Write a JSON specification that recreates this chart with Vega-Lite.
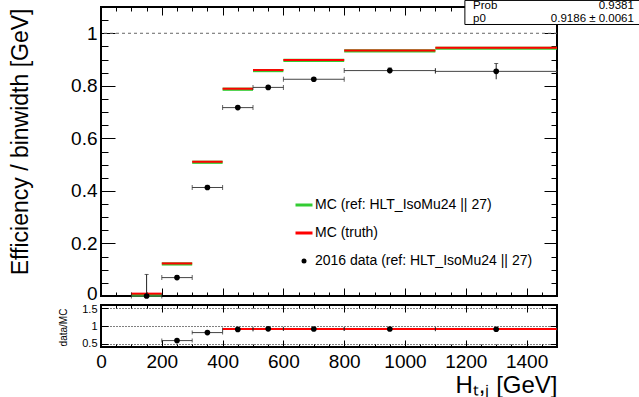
{
  "$schema": "https://vega.github.io/schema/vega-lite/v6.json",
  "padding": {"left": 8, "top": -2, "right": 0, "bottom": 0},
  "spacing": 9,
  "bounds": "flush",
  "config": {
    "font": "Liberation Sans",
    "view": {"stroke": "black", "strokeWidth": 2},
    "axis": {"domain": false, "grid": false, "labelFlush": false, "labelColor": "black", "tickColor": "black", "tickWidth": 1, "labelFont": "Liberation Sans", "titleFont": "Liberation Sans", "titleFontWeight": "normal", "titleColor": "black"}
  },
  "datasets": {
    "mcref": [
      {"series": "MC (ref: HLT_IsoMu24 || 27)", "lo": 100, "hi": 200, "eff": 0.003},
      {"series": "MC (ref: HLT_IsoMu24 || 27)", "lo": 200, "hi": 300, "eff": 0.122},
      {"series": "MC (ref: HLT_IsoMu24 || 27)", "lo": 300, "hi": 400, "eff": 0.509},
      {"series": "MC (ref: HLT_IsoMu24 || 27)", "lo": 400, "hi": 500, "eff": 0.787},
      {"series": "MC (ref: HLT_IsoMu24 || 27)", "lo": 500, "hi": 600, "eff": 0.858},
      {"series": "MC (ref: HLT_IsoMu24 || 27)", "lo": 600, "hi": 800, "eff": 0.897},
      {"series": "MC (ref: HLT_IsoMu24 || 27)", "lo": 800, "hi": 1100, "eff": 0.933},
      {"series": "MC (ref: HLT_IsoMu24 || 27)", "lo": 1100, "hi": 1500, "eff": 0.943}
    ],
    "mctruth": [
      {"series": "MC (truth)", "lo": 100, "hi": 200, "eff": 0.009},
      {"series": "MC (truth)", "lo": 200, "hi": 300, "eff": 0.124},
      {"series": "MC (truth)", "lo": 300, "hi": 400, "eff": 0.511},
      {"series": "MC (truth)", "lo": 400, "hi": 500, "eff": 0.789},
      {"series": "MC (truth)", "lo": 500, "hi": 600, "eff": 0.86},
      {"series": "MC (truth)", "lo": 600, "hi": 800, "eff": 0.898},
      {"series": "MC (truth)", "lo": 800, "hi": 1100, "eff": 0.934},
      {"series": "MC (truth)", "lo": 1100, "hi": 1500, "eff": 0.945}
    ],
    "eff": [
      {"series": "2016 data (ref: HLT_IsoMu24 || 27)", "x": 150, "lo": 100, "hi": 200, "eff": 0.0, "elo": 0.0, "ehi": 0.082},
      {"series": "2016 data (ref: HLT_IsoMu24 || 27)", "x": 250, "lo": 200, "hi": 300, "eff": 0.07, "elo": 0.062, "ehi": 0.078},
      {"series": "2016 data (ref: HLT_IsoMu24 || 27)", "x": 350, "lo": 300, "hi": 400, "eff": 0.413, "elo": 0.405, "ehi": 0.421},
      {"series": "2016 data (ref: HLT_IsoMu24 || 27)", "x": 450, "lo": 400, "hi": 500, "eff": 0.717, "elo": 0.711, "ehi": 0.723},
      {"series": "2016 data (ref: HLT_IsoMu24 || 27)", "x": 550, "lo": 500, "hi": 600, "eff": 0.794, "elo": 0.789, "ehi": 0.799},
      {"series": "2016 data (ref: HLT_IsoMu24 || 27)", "x": 700, "lo": 600, "hi": 800, "eff": 0.825, "elo": 0.82, "ehi": 0.83},
      {"series": "2016 data (ref: HLT_IsoMu24 || 27)", "x": 950, "lo": 800, "hi": 1100, "eff": 0.858, "elo": 0.848, "ehi": 0.868},
      {"series": "2016 data (ref: HLT_IsoMu24 || 27)", "x": 1300, "lo": 1100, "hi": 1500, "eff": 0.855, "elo": 0.825, "ehi": 0.885}
    ],
    "ratio": [
      {"x": 250, "lo": 200, "hi": 300, "r": 0.59, "rlo": 0.55, "rhi": 0.63},
      {"x": 350, "lo": 300, "hi": 400, "r": 0.815, "rlo": 0.795, "rhi": 0.835},
      {"x": 450, "lo": 400, "hi": 500, "r": 0.905, "rlo": 0.895, "rhi": 0.915},
      {"x": 550, "lo": 500, "hi": 600, "r": 0.92, "rlo": 0.91, "rhi": 0.93},
      {"x": 700, "lo": 600, "hi": 800, "r": 0.915, "rlo": 0.905, "rhi": 0.925},
      {"x": 950, "lo": 800, "hi": 1100, "r": 0.915, "rlo": 0.9, "rhi": 0.93},
      {"x": 1300, "lo": 1100, "hi": 1500, "r": 0.91, "rlo": 0.875, "rhi": 0.945}
    ],
    "fit": [{"lo": 400, "hi": 1500, "p0": 0.9186}],
    "stats": [{"names": ["Prob", "p0"], "vals": ["0.9381", "0.9186 ± 0.0061"], "xl": 1224, "xr": 1753, "yt": 1.0905, "bx1": 1197, "bx2": 1776, "by1": 1.0334, "by2": 1.125}]
  },
  "vconcat": [
    {
      "width": 456,
      "height": 289,
      "resolve": {"axis": {"x": "independent", "y": "independent"}},
      "layer": [
        {
          "data": {"values": [{"ref": 1}]},
          "mark": {"type": "rule", "stroke": "#666666", "strokeDash": [3, 3], "strokeWidth": 1},
          "encoding": {
            "y": {"field": "ref", "type": "quantitative", "scale": {"domain": [0, 1.1], "nice": false, "zero": false},
              "axis": {"orient": "left", "values": [0, 0.2, 0.4, 0.6, 0.8, 1], "format": "~g", "ticks": false, "labelFontSize": 19, "labelPadding": 4,
                "labelOffset": {"condition": {"test": "datum.value === 0", "value": -3}, "value": 0},
                "title": "Efficiency / binwidth [GeV]", "titleFontSize": 23, "titleAngle": -90, "titleBaseline": "alphabetic", "titleAlign": "right", "titleX": -73.5, "titleY": 1}}
          }
        },
        {
          "data": {"name": "mcref"},
          "mark": {"type": "rule", "strokeWidth": 3.2},
          "encoding": {
            "x": {"field": "lo", "type": "quantitative", "scale": {"domain": [0, 1500], "nice": false, "zero": false},
              "axis": {"orient": "bottom", "values": [0, 200, 400, 600, 800, 1000, 1200, 1400], "labels": false, "tickSize": -8, "title": null}},
            "x2": {"field": "hi"},
            "y": {"field": "eff", "type": "quantitative",
              "axis": {"orient": "left", "values": [0, 0.2, 0.4, 0.6, 0.8, 1], "labels": false, "tickSize": -14, "title": null}},
            "color": {"field": "series", "type": "nominal",
              "scale": {"domain": ["MC (ref: HLT_IsoMu24 || 27)", "MC (truth)", "2016 data (ref: HLT_IsoMu24 || 27)"], "range": ["#33cc33", "#ff0000", "#000000"]},
              "legend": {"title": null, "orient": "none", "legendX": 196, "legendY": 191, "padding": 0, "labelFontSize": 14, "labelFont": "Liberation Sans", "labelColor": "black", "labelOffset": 4, "symbolSize": 289, "rowPadding": 14, "labelLimit": 400,
                "encode": {"symbols": {"update": {
                  "shape": {"signal": "datum.value === '2016 data (ref: HLT_IsoMu24 || 27)' ? 'circle' : 'stroke'"},
                  "size": {"signal": "datum.value === '2016 data (ref: HLT_IsoMu24 || 27)' ? 25 : 289"},
                  "stroke": {"scale": "color", "field": "value"},
                  "fill": {"scale": "color", "field": "value"},
                  "strokeWidth": {"signal": "datum.value === '2016 data (ref: HLT_IsoMu24 || 27)' ? 0 : 3"},
                  "opacity": {"value": 1}
                }}}}}
          }
        },
        {
          "data": {"name": "mctruth"},
          "mark": {"type": "rule", "strokeWidth": 2},
          "encoding": {
            "x": {"field": "lo", "type": "quantitative",
              "axis": {"orient": "bottom", "values": [50, 100, 150, 250, 300, 350, 450, 500, 550, 650, 700, 750, 850, 900, 950, 1050, 1100, 1150, 1250, 1300, 1350, 1450], "labels": false, "tickSize": -4, "title": null}},
            "x2": {"field": "hi"},
            "y": {"field": "eff", "type": "quantitative",
              "axis": {"orient": "left", "values": [0.05, 0.1, 0.15, 0.25, 0.3, 0.35, 0.45, 0.5, 0.55, 0.65, 0.7, 0.75, 0.85, 0.9, 0.95, 1.05], "labels": false, "tickSize": -7, "title": null}},
            "color": {"field": "series", "type": "nominal"}
          }
        },
        {
          "data": {"name": "eff"},
          "mark": {"type": "rule", "stroke": "#444444", "strokeWidth": 1},
          "encoding": {
            "x": {"field": "lo", "type": "quantitative",
              "axis": {"orient": "top", "values": [0, 200, 400, 600, 800, 1000, 1200, 1400], "labels": false, "tickSize": -8, "title": null}},
            "x2": {"field": "hi"},
            "y": {"field": "eff", "type": "quantitative",
              "axis": {"orient": "right", "values": [0, 0.2, 0.4, 0.6, 0.8, 1], "labels": false, "tickSize": -13, "title": null}}
          }
        },
        {
          "data": {"name": "eff"},
          "mark": {"type": "rule", "stroke": "#222222", "strokeWidth": 1},
          "encoding": {
            "x": {"field": "x", "type": "quantitative",
              "axis": {"orient": "top", "values": [50, 100, 150, 250, 300, 350, 450, 500, 550, 650, 700, 750, 850, 900, 950, 1050, 1100, 1150, 1250, 1300, 1350, 1450], "labels": false, "tickSize": -4, "title": null}},
            "y": {"field": "elo", "type": "quantitative",
              "axis": {"orient": "right", "values": [0.05, 0.1, 0.15, 0.25, 0.3, 0.35, 0.45, 0.5, 0.55, 0.65, 0.7, 0.75, 0.85, 0.9, 0.95, 1.05], "labels": false, "tickSize": -6, "title": null}},
            "y2": {"field": "ehi"}
          }
        },
        {
          "data": {"name": "eff"},
          "mark": {"type": "tick", "orient": "vertical", "size": 5, "thickness": 1, "color": "#222222"},
          "encoding": {
            "x": {"field": "lo", "type": "quantitative", "axis": null},
            "y": {"field": "eff", "type": "quantitative", "axis": null}
          }
        },
        {
          "data": {"name": "eff"},
          "mark": {"type": "tick", "orient": "vertical", "size": 5, "thickness": 1, "color": "#222222"},
          "encoding": {
            "x": {"field": "hi", "type": "quantitative", "axis": null},
            "y": {"field": "eff", "type": "quantitative", "axis": null}
          }
        },
        {
          "data": {"name": "eff"},
          "mark": {"type": "tick", "orient": "horizontal", "size": 4, "thickness": 1, "color": "#222222"},
          "encoding": {
            "x": {"field": "x", "type": "quantitative", "axis": null},
            "y": {"field": "ehi", "type": "quantitative", "axis": null}
          }
        },
        {
          "data": {"name": "eff"},
          "mark": {"type": "point", "shape": "circle", "filled": true, "size": 32, "opacity": 1},
          "encoding": {
            "x": {"field": "x", "type": "quantitative", "axis": null},
            "y": {"field": "eff", "type": "quantitative", "axis": null},
            "color": {"field": "series", "type": "nominal"}
          }
        },
        {
          "data": {"name": "stats"},
          "mark": {"type": "rect", "fill": "white", "stroke": "black", "strokeWidth": 1, "clip": false},
          "encoding": {
            "x": {"field": "bx1", "type": "quantitative", "axis": null},
            "x2": {"field": "bx2"},
            "y": {"field": "by1", "type": "quantitative", "axis": null},
            "y2": {"field": "by2"}
          }
        },
        {
          "data": {"name": "stats"},
          "mark": {"type": "text", "align": "left", "baseline": "alphabetic", "fontSize": 11.5, "lineHeight": 12.5, "font": "Liberation Sans", "color": "black", "clip": false},
          "encoding": {
            "x": {"field": "xl", "type": "quantitative", "axis": null},
            "y": {"field": "yt", "type": "quantitative", "axis": null},
            "text": {"field": "names"}
          }
        },
        {
          "data": {"name": "stats"},
          "mark": {"type": "text", "align": "right", "baseline": "alphabetic", "fontSize": 11.5, "lineHeight": 12.5, "font": "Liberation Sans", "color": "black", "clip": false},
          "encoding": {
            "x": {"field": "xr", "type": "quantitative", "axis": null},
            "y": {"field": "yt", "type": "quantitative", "axis": null},
            "text": {"field": "vals"}
          }
        }
      ]
    },
    {
      "width": 456,
      "height": 42,
      "resolve": {"axis": {"x": "independent", "y": "independent"}},
      "layer": [
        {
          "data": {"name": "ratio"},
          "mark": {"type": "rule", "stroke": "#444444", "strokeWidth": 1},
          "encoding": {
            "x": {"field": "lo", "type": "quantitative", "scale": {"domain": [0, 1500], "nice": false, "zero": false},
              "axis": {"orient": "bottom", "values": [0, 200, 400, 600, 800, 1000, 1200, 1400], "format": "d", "ticks": false, "labelFlush": false, "labelFontSize": 19, "labelPadding": 5,
                "title": "Hₜ,ⱼ [GeV]", "titleFontSize": 24, "titleX": 456, "titleY": 45, "titleAlign": "right", "titleBaseline": "alphabetic"}},
            "x2": {"field": "hi"},
            "y": {"field": "r", "type": "quantitative", "scale": {"domain": [0.41, 1.59], "nice": false, "zero": false},
              "axis": {"orient": "left", "values": [0.5, 1, 1.5], "format": "~g", "ticks": false, "labelFontSize": 11, "labelPadding": 4,
                "labelOffset": {"condition": {"test": "datum.value === 1.5", "value": 1}, "value": 0},
                "grid": true, "gridColor": "black", "gridDash": [1, 2], "gridWidth": 1,
                "title": "data/MC", "titleFontSize": 10, "titleAngle": -90, "titleX": -34.5, "titleY": 22, "titleAlign": "center", "titleBaseline": "alphabetic"}}
          }
        },
        {
          "data": {"name": "ratio"},
          "mark": {"type": "rule", "stroke": "#222222", "strokeWidth": 1},
          "encoding": {
            "x": {"field": "x", "type": "quantitative",
              "axis": {"orient": "bottom", "values": [0, 200, 400, 600, 800, 1000, 1200, 1400], "labels": false, "tickSize": -7, "title": null}},
            "y": {"field": "rlo", "type": "quantitative",
              "axis": {"orient": "left", "values": [0.5, 1, 1.5], "labels": false, "tickSize": -7, "title": null}},
            "y2": {"field": "rhi"}
          }
        },
        {
          "data": {"name": "fit"},
          "mark": {"type": "rule", "stroke": "#ff0000", "strokeWidth": 2},
          "encoding": {
            "x": {"field": "lo", "type": "quantitative",
              "axis": {"orient": "top", "values": [0, 200, 400, 600, 800, 1000, 1200, 1400], "labels": false, "tickSize": -7, "title": null}},
            "x2": {"field": "hi"},
            "y": {"field": "p0", "type": "quantitative",
              "axis": {"orient": "right", "values": [0.5, 1, 1.5], "labels": false, "tickSize": -7, "title": null}}
          }
        },
        {
          "data": {"name": "ratio"},
          "mark": {"type": "tick", "orient": "vertical", "size": 4, "thickness": 1, "color": "#222222"},
          "encoding": {
            "x": {"field": "lo", "type": "quantitative",
              "axis": {"orient": "bottom", "values": [50, 100, 150, 250, 300, 350, 450, 500, 550, 650, 700, 750, 850, 900, 950, 1050, 1100, 1150, 1250, 1300, 1350, 1450], "labels": false, "tickSize": -3, "title": null}},
            "y": {"field": "r", "type": "quantitative", "axis": null}
          }
        },
        {
          "data": {"name": "ratio"},
          "mark": {"type": "tick", "orient": "vertical", "size": 4, "thickness": 1, "color": "#222222"},
          "encoding": {
            "x": {"field": "hi", "type": "quantitative",
              "axis": {"orient": "top", "values": [50, 100, 150, 250, 300, 350, 450, 500, 550, 650, 700, 750, 850, 900, 950, 1050, 1100, 1150, 1250, 1300, 1350, 1450], "labels": false, "tickSize": -3, "title": null}},
            "y": {"field": "r", "type": "quantitative", "axis": null}
          }
        },
        {
          "data": {"name": "ratio"},
          "mark": {"type": "point", "shape": "circle", "filled": true, "size": 32, "color": "black", "opacity": 1},
          "encoding": {
            "x": {"field": "x", "type": "quantitative", "axis": null},
            "y": {"field": "r", "type": "quantitative", "axis": null}
          }
        }
      ]
    }
  ]
}
